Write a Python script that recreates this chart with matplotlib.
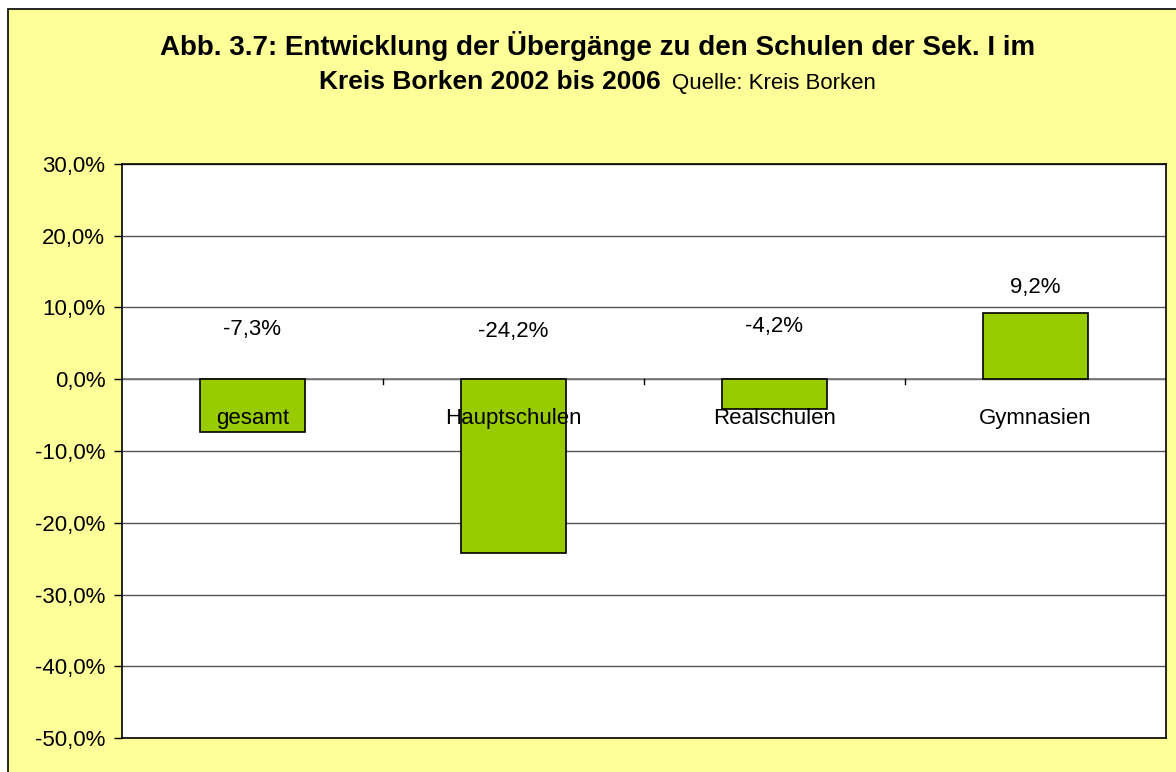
import matplotlib
matplotlib.use("Agg")
import matplotlib.pyplot as plt
from matplotlib.patches import Rectangle
from matplotlib.ticker import FuncFormatter

categories = ["gesamt", "Hauptschulen", "Realschulen", "Gymnasien"]
values = [-7.3, -24.2, -4.2, 9.2]
value_labels = ["-7,3%", "-24,2%", "-4,2%", "9,2%"]
label_y = [7.0, 6.7, 7.3, 12.8]

plt.rcParams['font.family'] = ['Liberation Sans', 'DejaVu Sans']

W, H = 1176, 772
fig = plt.figure(figsize=(W/100, H/100), dpi=100)
fig.patch.set_facecolor('white')

# yellow panel
panel = Rectangle((8/W, -0.05), 1.1, 1.05 - 9/H, transform=fig.transFigure,
                  facecolor='#FFFF99', edgecolor='black', linewidth=1.2, zorder=-5)
fig.patches.append(panel)

left, right, top, bottom = 122, 1166, 164, 738
ax = fig.add_axes([left/W, 1 - bottom/H, (right-left)/W, (bottom-top)/H])
ax.set_zorder(1)
ax.set_facecolor('white')

x = range(len(categories))
ax.bar(x, values, width=0.4, color='#99CC00', edgecolor='black', linewidth=1.2, zorder=3)

ax.set_xlim(-0.5, len(categories) - 0.5)
ax.set_ylim(-50, 30)
ax.set_yticks(range(-50, 31, 10))
ax.yaxis.set_major_formatter(FuncFormatter(lambda v, p: f"{v:.1f}%".replace('.', ',')))
ax.tick_params(axis='y', length=6, width=1, labelsize=16, pad=6, direction='out')
ax.grid(axis='y', color='#555555', linewidth=1, zorder=1)
ax.axhline(0, color='#777777', linewidth=1.2, zorder=2)
ax.set_xticks([])

# small ticks at category boundaries on zero line
for b in [0.5, 1.5, 2.5]:
    ax.plot([b, b], [0, -0.7], color='black', linewidth=1, zorder=2)

for i, (cat, v, lab, ly) in enumerate(zip(categories, values, value_labels, label_y)):
    ax.text(i, ly, lab, ha='center', va='center', fontsize=16, zorder=4)
    ax.text(i, -5.5, cat, ha='center', va='center', fontsize=16, zorder=4)

for s in ['top', 'right', 'bottom', 'left']:
    ax.spines[s].set_color('black')
    ax.spines[s].set_linewidth(1.2)

fig.text(598/W, 1 - 46/H, "Abb. 3.7: Entwicklung der Übergänge zu den Schulen der Sek. I im",
         ha='center', va='center', fontsize=20, fontweight='bold')
fig.text(661/W, 1 - 82/H, "Kreis Borken 2002 bis 2006", ha='right', va='center',
         fontsize=19, fontweight='bold')
fig.text(672/W, 1 - 83/H, "Quelle: Kreis Borken", ha='left', va='center', fontsize=16)

fig.savefig('out.png', dpi=100, facecolor=fig.get_facecolor())
